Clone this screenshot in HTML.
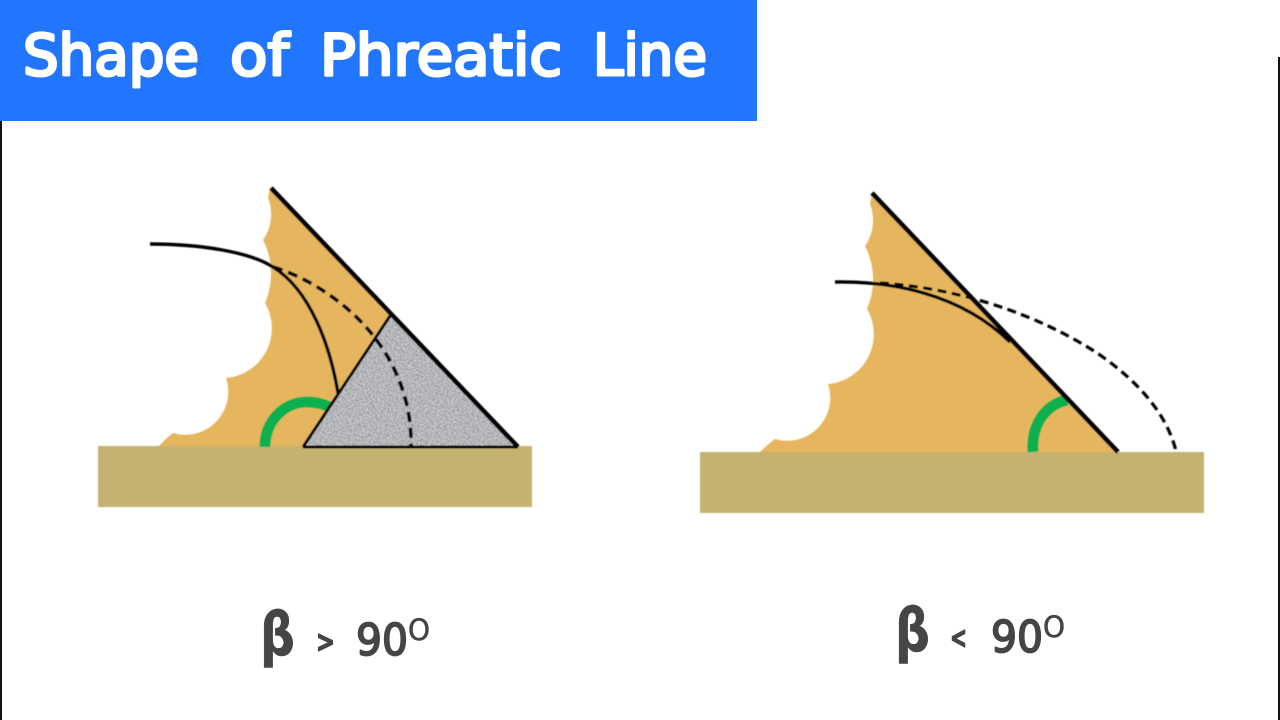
<!DOCTYPE html>
<html>
<head>
<meta charset="utf-8">
<style>
html,body{margin:0;padding:0;background:#fff;width:1280px;height:720px;overflow:hidden}
svg{display:block}
text{font-family:"DejaVu Sans","Liberation Sans",sans-serif}
</style>
</head>
<body>
<svg width="1280" height="720" viewBox="0 0 1280 720" xmlns="http://www.w3.org/2000/svg">
<defs>
<filter id="noise" x="0" y="0" width="100%" height="100%">
<feTurbulence type="fractalNoise" baseFrequency="0.8" numOctaves="2" seed="4" result="n"/>
<feColorMatrix in="n" type="matrix" values="0 0 0 0 0.3  0 0 0 0 0.3  0 0 0 0 0.33  6 0 0 0 -2.45" result="d"/>
<feFlood flood-color="#d2d3d7"/>
<feComposite in2="SourceGraphic" operator="in" result="b"/>
<feComposite in="d" in2="SourceGraphic" operator="in" result="d2"/>
<feMerge><feMergeNode in="b"/><feMergeNode in="d2"/></feMerge>
</filter>
<filter id="soft"><feGaussianBlur stdDeviation="0.4"/></filter>
</defs>

<rect width="1280" height="720" fill="#fff"/>
<rect x="0" y="121" width="2" height="599" fill="#111"/>
<rect x="1278" y="57" width="2" height="663" fill="#111"/>

<!-- Title -->
<rect x="0" y="0" width="757" height="121" fill="#2276fe"/>
<g font-size="57" fill="#fff" stroke="#fff" stroke-width="3" stroke-linejoin="round">
<text x="23" y="75" textLength="176" lengthAdjust="spacingAndGlyphs">Shape</text>
<text x="230" y="75" textLength="59" lengthAdjust="spacingAndGlyphs">of</text>
<text x="320" y="75" textLength="242" lengthAdjust="spacingAndGlyphs">Phreatic</text>
<text x="593" y="75" textLength="114" lengthAdjust="spacingAndGlyphs">Line</text>
</g>

<!-- LEFT DIAGRAM -->
<g filter="url(#soft)">
<path d="M270 187 L390 316 L303 447 L158 447 Q166 438 173 433 A43 43 0 0 0 226 378 A50 50 0 0 0 265 303 A74 74 0 0 0 263 240 A45 45 0 0 0 268 198 Z" fill="#e6b65f"/>
<rect x="98" y="446" width="434" height="61" fill="#c4b26f"/>
<path d="M265 447 C265 420 285 402 307 402 Q320 402 332 408" fill="none" stroke="#0eb04f" stroke-width="11"/>
<path d="M390 316 L518 447 L303 447 Z" fill="#aaa" filter="url(#noise)"/>
<line x1="271" y1="188" x2="518" y2="447" stroke="#000" stroke-width="4.6"/>
<line x1="303" y1="447" x2="518" y2="447" stroke="#000" stroke-width="3"/>
<line x1="303" y1="447" x2="390" y2="316" stroke="#000" stroke-width="3"/>
<path d="M150 244 C200 244 250 252 273 267 C310 290 330 345 338 393" fill="none" stroke="#000" stroke-width="3.4"/>
<path d="M273 267 C310 278 350 305 375 338 C398 368 412 405 411 447" fill="none" stroke="#000" stroke-width="3.6" stroke-dasharray="10 6"/>
</g>

<!-- RIGHT DIAGRAM -->
<g filter="url(#soft)">
<path d="M872 193 L1118 452 L760 452 Q768 444 775 439 A43 43 0 0 0 828 384 A50 50 0 0 0 867 309 A74 74 0 0 0 865 246 A45 45 0 0 0 870 204 Z" fill="#e6b65f"/>
<rect x="700" y="452" width="504" height="61" fill="#c4b26f"/>
<path d="M1033 452 C1031 425 1045 405 1067 400" fill="none" stroke="#0eb04f" stroke-width="11"/>
<line x1="872" y1="193" x2="1118" y2="452" stroke="#000" stroke-width="4.6"/>
<path d="M835 282 C890 281 960 293 1010 342" fill="none" stroke="#000" stroke-width="3.4"/>
<path d="M880 283 C960 288 1040 315 1100 355 C1140 383 1167 415 1176 451" fill="none" stroke="#000" stroke-width="3.2" stroke-dasharray="9 5.5"/>
</g>

<!-- Labels -->
<g fill="#454545" stroke="#454545" stroke-linejoin="round">
<text x="260" y="655" font-size="60" font-weight="bold" stroke-width="0.5" textLength="35" lengthAdjust="spacingAndGlyphs">β</text>
<text x="316" y="652" font-size="30" font-weight="bold" stroke-width="1.2" textLength="19" lengthAdjust="spacingAndGlyphs">&gt;</text>
<text x="356" y="655" font-size="44" stroke-width="1.8" textLength="52" lengthAdjust="spacingAndGlyphs">90</text>
<text x="408" y="640" font-size="29" stroke-width="0.6" textLength="22" lengthAdjust="spacingAndGlyphs">O</text>

<text x="895" y="651" font-size="60" font-weight="bold" stroke-width="0.5" textLength="35" lengthAdjust="spacingAndGlyphs">β</text>
<text x="950" y="648" font-size="30" font-weight="bold" stroke-width="1.2" textLength="17" lengthAdjust="spacingAndGlyphs">&lt;</text>
<text x="991" y="652" font-size="44" stroke-width="1.8" textLength="52" lengthAdjust="spacingAndGlyphs">90</text>
<text x="1043" y="637" font-size="29" stroke-width="0.6" textLength="22" lengthAdjust="spacingAndGlyphs">O</text>
</g>
</svg>
</body>
</html>
